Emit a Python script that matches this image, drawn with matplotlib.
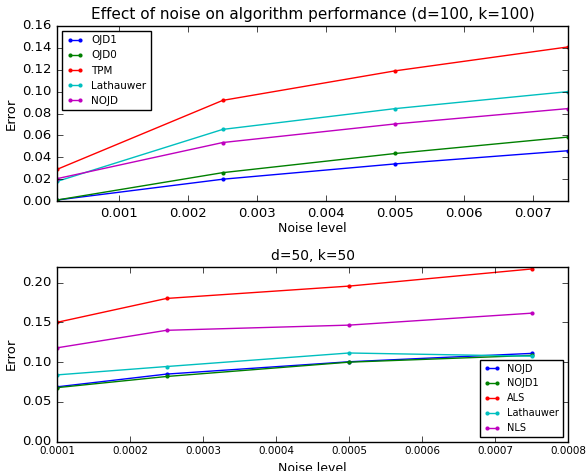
import matplotlib
matplotlib.use("Agg")
import matplotlib.pyplot as plt

# top panel: d=100, k=100
noise_top = [0.0001, 0.0025, 0.005, 0.0075]
ojd1 = [0.001, 0.020, 0.034, 0.046]
ojd0 = [0.001, 0.026, 0.0435, 0.0585]
tpm = [0.029, 0.092, 0.119, 0.1408]
lathauwer_top = [0.018, 0.0655, 0.0845, 0.100]
nojd_top = [0.0205, 0.0535, 0.0705, 0.0845]

# bottom panel: d=50, k=50
noise_bot = [0.0001, 0.00025, 0.0005, 0.00075]
nojd_bot = [0.069, 0.085, 0.1005, 0.111]
nojd1_bot = [0.068, 0.082, 0.100, 0.1085]
als = [0.150, 0.180, 0.1955, 0.217]
lathauwer_bot = [0.084, 0.0945, 0.1115, 0.1075]
nls = [0.118, 0.140, 0.1465, 0.1615]

plt.style.use("classic")
plt.rcParams["font.family"] = "DejaVu Sans"

fig = plt.figure(figsize=(5.88, 4.71), dpi=100)
fig.patch.set_facecolor("white")

ax1 = fig.add_axes([0.097, 0.573, 0.869, 0.372])
for y, c, lab in [(ojd1, "b", "OJD1"), (ojd0, "g", "OJD0"), (tpm, "r", "TPM"),
                  (lathauwer_top, "c", "Lathauwer"), (nojd_top, "m", "NOJD")]:
    ax1.plot(noise_top, y, c + ".-", label=lab, markersize=6, markeredgewidth=0)
ax1.set_xlim(0.0001, 0.0075)
ax1.set_ylim(0, 0.16)
ax1.set_xticks([0.001, 0.002, 0.003, 0.004, 0.005, 0.006, 0.007])
ax1.set_yticks([0.0, 0.02, 0.04, 0.06, 0.08, 0.10, 0.12, 0.14, 0.16])
ax1.tick_params(labelsize=9.5)
ax1.set_xlabel("Noise level", fontsize=9)
ax1.set_ylabel("Error", fontsize=9.5)
ax1.xaxis.set_label_coords(0.5, -0.12)
ax1.yaxis.set_label_coords(-0.076, 0.5)
ax1.set_title("Effect of noise on algorithm performance (d=100, k=100)", fontsize=11)
ax1.legend(loc="upper left", fontsize=7.5, numpoints=2, handlelength=1.6)

ax2 = fig.add_axes([0.097, 0.062, 0.869, 0.372])
for y, c, lab in [(nojd_bot, "b", "NOJD"), (nojd1_bot, "g", "NOJD1"), (als, "r", "ALS"),
                  (lathauwer_bot, "c", "Lathauwer"), (nls, "m", "NLS")]:
    ax2.plot(noise_bot, y, c + ".-", label=lab, markersize=6, markeredgewidth=0)
ax2.set_xlim(0.0001, 0.0008)
ax2.set_ylim(0, 0.22)
ax2.set_xticks([0.0001, 0.0002, 0.0003, 0.0004, 0.0005, 0.0006, 0.0007, 0.0008])
ax2.set_xticklabels(["0.0001", "0.0002", "0.0003", "0.0004", "0.0005", "0.0006", "0.0007", "0.0008"])
ax2.set_yticks([0.0, 0.05, 0.10, 0.15, 0.20])
ax2.tick_params(axis="x", labelsize=7.5, pad=3)
ax2.tick_params(axis="y", labelsize=9.5)
ax2.set_xlabel("Noise level", fontsize=9)
ax2.set_ylabel("Error", fontsize=9.5)
ax2.xaxis.set_label_coords(0.5, -0.114)
ax2.yaxis.set_label_coords(-0.076, 0.5)
ax2.set_title("d=50, k=50", fontsize=10)
ax2.legend(loc="lower right", fontsize=7, numpoints=2, handlelength=1.6)

fig.savefig("out.png", dpi=100, facecolor="white")
